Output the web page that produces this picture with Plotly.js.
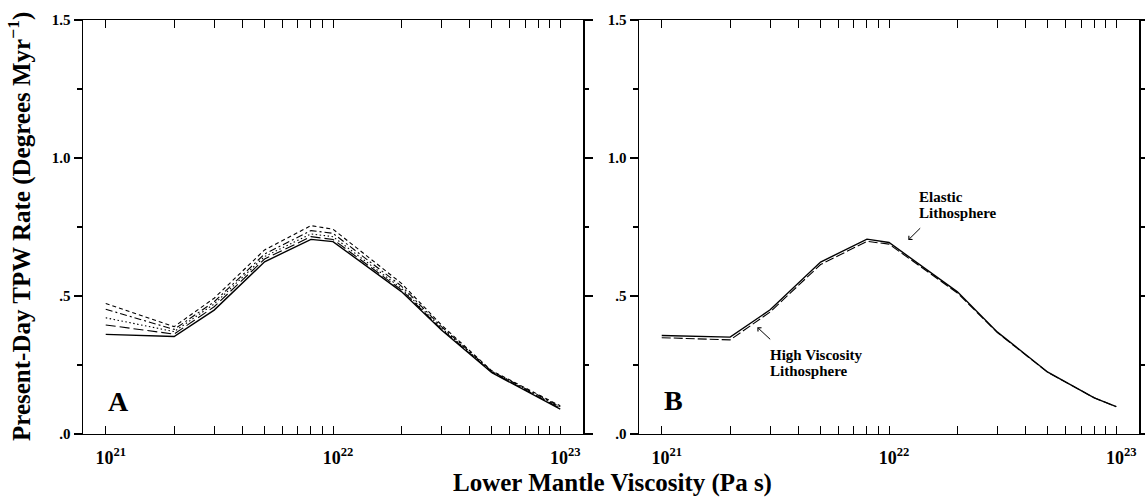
<!DOCTYPE html>
<html>
<head>
<meta charset="utf-8">
<script src="https://cdn.plot.ly/plotly-3.0.1.min.js"></script>
<style>html,body{margin:0;padding:0;background:#fff;}#chart{width:1145px;height:504px;}</style>
</head>
<body>
<div id="chart"></div>
<script>
// ---- data ----
const viscosity = [1e21, 2e21, 3e21, 5e21, 8e21, 1e22, 2e22, 3e22, 5e22, 8e22, 1e23];

// Panel A (five models)
const aSolid     = [0.361, 0.353, 0.449, 0.624, 0.705, 0.697, 0.516, 0.377, 0.222, 0.132, 0.090];
const aLongDash  = [0.395, 0.362, 0.461, 0.634, 0.715, 0.705, 0.522, 0.380, 0.224, 0.135, 0.093];
const aDotted    = [0.421, 0.371, 0.471, 0.643, 0.725, 0.715, 0.528, 0.384, 0.226, 0.137, 0.096];
const aDashDot   = [0.452, 0.379, 0.479, 0.652, 0.737, 0.727, 0.536, 0.389, 0.227, 0.139, 0.099];
const aShortDash = [0.473, 0.389, 0.492, 0.667, 0.755, 0.742, 0.546, 0.395, 0.229, 0.141, 0.102];

// Panel B (elastic vs high viscosity lithosphere)
const bElastic   = [0.357, 0.351, 0.450, 0.623, 0.706, 0.694, 0.515, 0.369, 0.224, 0.131, 0.099];
const bHighVisc  = [0.349, 0.341, 0.442, 0.614, 0.698, 0.688, 0.511, 0.367, 0.223, 0.131, 0.099];

// ticks
const xTickVals = [1e21, 1e22, 1e23];
const xTickText = ['10<sup>21</sup>', '10<sup>22</sup>', '10<sup>23</sup>'];
const xMinorVals = [2e21,3e21,4e21,5e21,6e21,7e21,8e21,9e21,
                    2e22,3e22,4e22,5e22,6e22,7e22,8e22,9e22];
const yTickVals = [0, 0.5, 1.0, 1.5];
const yTickText = ['.0', '.5', '1.0', '1.5'];
const yMinorVals = [0.25, 0.75, 1.25];

const panelLabels = ['A', 'B'];
const xTitle = 'Lower Mantle Viscosity (Pa s)';
const yTitle = 'Present-Day TPW Rate (Degrees Myr<sup>\u22121</sup>)';

// ---- styling ----
const FONT = 'Liberation Serif, Times New Roman, serif';
const L = 83, T = 20, R = 1139, B = 434;
const W = R - L, H = B - T;
const px = v => (v - L) / W;
const py = v => (B - v) / H;

function mk(y, xa, ya, dash, width) {
  return {x: viscosity, y: y, xaxis: xa, yaxis: ya, type: 'scatter', mode: 'lines',
          line: {color: '#000', width: width, dash: dash}, hoverinfo: 'skip'};
}

const traces = [
  mk(aSolid, 'x', 'y', 'solid', 1.4),
  mk(aLongDash, 'x', 'y', '10px,4px', 1.1),
  mk(aDotted, 'x', 'y', '1.5px,2.5px', 1.1),
  mk(aDashDot, 'x', 'y', '7px,3px,2px,3px', 1.1),
  mk(aShortDash, 'x', 'y', '4px,3px', 1.1),
  mk(bElastic, 'x2', 'y2', 'solid', 1.4),
  mk(bHighVisc, 'x2', 'y2', '9px,3px', 1.1)
];

function xAxis(domain, anchor) {
  return {type: 'log', range: [20.9, 23.1], domain: domain, anchor: anchor,
    tickmode: 'array', tickvals: xTickVals, ticktext: xTickText,
    ticks: 'inside', ticklen: 8, tickwidth: 1, tickcolor: '#000',
    showline: true, linewidth: 1.3, linecolor: '#000', mirror: 'ticks',
    showgrid: false, zeroline: false, ticklabelshift: 5, ticklabelstandoff: 7,
    tickfont: {family: FONT, size: 18, color: '#000', weight: 'bold'},
    minor: {tickmode: 'array', tickvals: xMinorVals, ticks: 'inside', ticklen: 8,
            tickwidth: 1, tickcolor: '#000', showgrid: false}};
}
function yAxis(anchor, outside) {
  return {range: [0, 1.5], anchor: anchor, tickmode: 'array',
    tickvals: yTickVals, ticktext: yTickText,
    ticks: outside ? 'outside' : 'inside', ticklen: 8, tickwidth: 1.3, tickcolor: '#000',
    showline: true, linewidth: 1.5, linecolor: '#000', mirror: 'ticks',
    showgrid: false, zeroline: false, showticklabels: outside,
    tickfont: {family: FONT, size: 15, color: '#000', weight: 'bold'},
    minor: {tickmode: 'array', tickvals: yMinorVals, ticks: outside ? 'outside' : 'inside',
            ticklen: 4.5, tickwidth: 1.2, tickcolor: '#000', showgrid: false}};
}

const dA = [0, 500 / W];
const dB = [(639 - L) / W, 1];

const y3 = yAxis('x', false); y3.overlaying = 'y';
const y4 = yAxis('x2', false); y4.overlaying = 'y2';

const txt = (t, x, y, size, extra) => Object.assign({
  text: t, xref: 'paper', yref: 'paper', x: x, y: y, showarrow: false,
  xanchor: 'left', yanchor: 'middle',
  font: {family: FONT, size: size, color: '#000', weight: 'bold'}}, extra || {});

const arrow = (tipX, tipY, ax, ay) => ({
  text: '', xref: 'paper', yref: 'paper', x: px(tipX), y: py(tipY), ax: ax, ay: ay,
  showarrow: true, arrowhead: 4, arrowsize: 1, arrowwidth: 1, arrowcolor: '#000', standoff: 0});

const layout = {
  width: 1145, height: 504,
  margin: {l: L, r: 1145 - R, t: T, b: 504 - B},
  paper_bgcolor: '#fff', plot_bgcolor: '#fff',
  showlegend: false, hovermode: false,
  xaxis: xAxis(dA, 'y'),
  xaxis2: xAxis(dB, 'y2'),
  yaxis: yAxis('x', true),
  yaxis2: yAxis('x2', true),
  yaxis3: y3,
  yaxis4: y4,
  annotations: [
    txt(panelLabels[0], px(118), py(401), 28, {xanchor: 'center'}),
    txt(panelLabels[1], px(673), py(400), 28, {xanchor: 'center'}),
    txt('Elastic', px(916.7), py(196.7), 15),
    txt('Lithosphere', px(916.7), py(213), 15),
    arrow(908.3, 240, 13.4, -13.3),
    txt('High Viscosity', px(767.7), py(355), 15),
    txt('Lithosphere', px(767.7), py(371), 15),
    arrow(757.3, 327.3, 14.4, 13.4),
    txt(xTitle, px(612), py(483), 25, {xanchor: 'center'}),
    txt(yTitle, px(19), 0.5, 25, {xanchor: 'center', textangle: -90})
  ]
};

Plotly.newPlot('chart', traces, layout, {staticPlot: true, displayModeBar: false});
</script>
</body>
</html>
